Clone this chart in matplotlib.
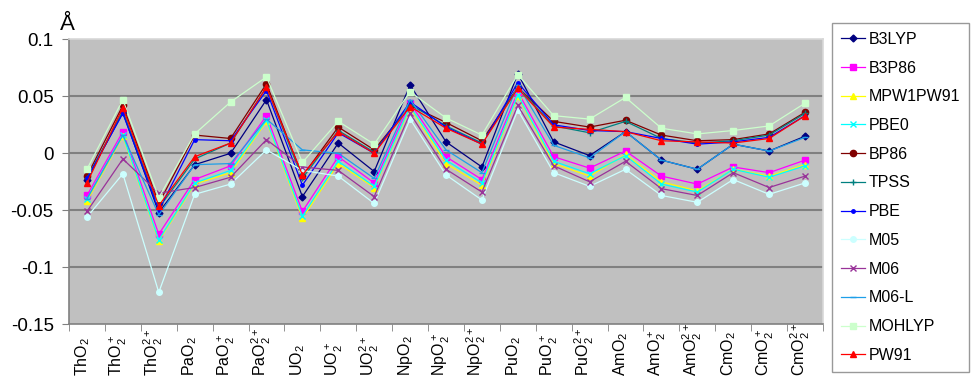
import matplotlib
matplotlib.use('Agg')
import matplotlib.pyplot as plt
import matplotlib.transforms as mtransforms
import numpy as np

plt.rcParams['font.family'] = ['Liberation Sans', 'DejaVu Sans']
plt.rcParams['mathtext.default'] = 'regular'

# categories (x labels)
labels = [r'ThO$_2$', r'ThO$_2^+$', r'ThO$_2^{2+}$',
          r'PaO$_2$', r'PaO$_2^+$', r'PaO$_2^{2+}$',
          r'UO$_2$', r'UO$_2^+$', r'UO$_2^{2+}$',
          r'NpO$_2$', r'NpO$_2^+$', r'NpO$_2^{2+}$',
          r'PuO$_2$', r'PuO$_2^+$', r'PuO$_2^{2+}$',
          r'AmO$_2$', r'AmO$_2^+$', r'AmO$_2^{2+}$',
          r'CmO$_2$', r'CmO$_2^+$', r'CmO$_2^{2+}$']

b3lyp = [-0.023, 0.036, -0.052, -0.010, 0.000, 0.047, -0.038, 0.009, -0.016, 0.060, 0.010,
         -0.012, 0.070, 0.010, -0.002, 0.019, -0.006, -0.014, 0.008, 0.002, 0.015]
b3p86 = [-0.037, 0.019, -0.071, -0.023, -0.011, 0.033, -0.051, -0.003, -0.026, 0.044, -0.003,
         -0.023, 0.054, -0.003, -0.013, 0.002, -0.020, -0.027, -0.012, -0.017, -0.006]
mpw1pw91 = [-0.042, 0.015, -0.077, -0.027, -0.017, 0.028, -0.057, -0.009, -0.030, 0.040, -0.009,
            -0.028, 0.050, -0.009, -0.020, -0.001, -0.025, -0.033, -0.014, -0.020, -0.010]
pbe0 = [-0.040, 0.016, -0.076, -0.026, -0.015, 0.029, -0.055, -0.007, -0.029, 0.041, -0.006,
        -0.026, 0.051, -0.007, -0.018, -0.002, -0.027, -0.034, -0.014, -0.021, -0.011]
bp86 = [-0.020, 0.042, -0.044, 0.016, 0.013, 0.061, -0.020, 0.023, 0.003, 0.042, 0.027,
        0.011, 0.058, 0.028, 0.023, 0.029, 0.016, 0.011, 0.012, 0.017, 0.036]
tpss = [-0.022, 0.037, -0.048, -0.005, 0.009, 0.058, -0.022, 0.020, 0.001, 0.043, 0.024,
        0.009, 0.058, 0.024, 0.018, 0.028, 0.013, 0.009, 0.011, 0.016, 0.035]
pbe = [-0.022, 0.035, -0.050, 0.012, 0.011, 0.055, -0.028, 0.018, 0.000, 0.045, 0.023,
       0.008, 0.062, 0.025, 0.020, 0.019, 0.013, 0.008, 0.010, 0.014, 0.033]
m05 = [-0.056, -0.018, -0.122, -0.036, -0.027, 0.003, -0.015, -0.020, -0.044, 0.030, -0.019,
       -0.041, 0.038, -0.017, -0.029, -0.014, -0.037, -0.043, -0.023, -0.036, -0.026]
m06 = [-0.051, -0.005, -0.035, -0.030, -0.021, 0.012, -0.012, -0.015, -0.038, 0.035, -0.014,
       -0.034, 0.042, -0.011, -0.025, -0.007, -0.031, -0.037, -0.017, -0.030, -0.020]
m06l = [-0.040, 0.016, -0.054, -0.010, -0.009, 0.030, 0.003, 0.000, -0.022, 0.047, 0.003,
        -0.017, 0.060, 0.007, -0.004, 0.019, -0.006, -0.014, 0.008, 0.002, 0.014]
mohlyp = [-0.014, 0.047, -0.039, 0.017, 0.045, 0.067, -0.008, 0.028, 0.008, 0.054, 0.031,
          0.016, 0.069, 0.033, 0.030, 0.049, 0.022, 0.017, 0.020, 0.024, 0.044]
pw91 = [-0.026, 0.040, -0.046, -0.003, 0.009, 0.058, -0.019, 0.019, 0.000, 0.041, 0.022,
        0.008, 0.057, 0.023, 0.021, 0.019, 0.011, 0.010, 0.009, 0.013, 0.033]

series = [
    ('B3LYP', b3lyp, '#000080', 'D', 3.5),
    ('B3P86', b3p86, '#FF00FF', 's', 4.5),
    ('MPW1PW91', mpw1pw91, '#FFFF00', '^', 4.5),
    ('PBE0', pbe0, '#00FFFF', 'x', 4),
    ('BP86', bp86, '#800000', 'o', 4.5),
    ('TPSS', tpss, '#008080', '+', 4.5),
    ('PBE', pbe, '#0000FF', 'o', 2.5),
    ('M05', m05, '#CCFFFF', 'o', 4),
    ('M06', m06, '#993399', 'x', 4),
    ('M06-L', m06l, '#1E9FE8', '_', 5),
    ('MOHLYP', mohlyp, '#CCFFCC', 's', 5),
    ('PW91', pw91, '#FF0000', '^', 5),
]

fig = plt.figure(figsize=(9.74, 3.77), dpi=100)
ax = fig.add_axes([69 / 974, 1 - 324.3 / 377, (823 - 69) / 974, (324.3 - 39.3) / 377])
ax.set_facecolor('#C0C0C0')

x = np.arange(len(labels))
for name, vals, col, mk, ms in series:
    ax.plot(x, vals, color=col, marker=mk, markersize=ms, markeredgecolor=col,
            markerfacecolor=col, linewidth=0.9, label=name)

ax.set_xlim(-0.5, len(labels) - 0.5)
ax.set_ylim(-0.15, 0.1)
ax.set_yticks([-0.15, -0.1, -0.05, 0, 0.05, 0.1])
ax.set_yticklabels(['-0.15', '-0.1', '-0.05', '0', '0.05', '0.1'], fontsize=13.5)
for yv in [-0.1, -0.05, 0, 0.05]:
    ax.axhline(yv, color='#808080', linewidth=1.5, zorder=0.5)

# x labels: rotated, starting near the bottom edge
ax.set_xticks(x)
ax.set_xticklabels([''] * len(labels))
ax.set_xticks(np.arange(-0.5, len(labels)), minor=True)
ax.tick_params(axis='x', which='major', length=0)
ax.tick_params(axis='x', which='minor', length=5, color='#808080')
ax.tick_params(axis='y', length=5, color='#808080', pad=6)
trans = mtransforms.blended_transform_factory(ax.transData, fig.transFigure)
for xi, lab in zip(x, labels):
    ax.text(xi, 1.5 / 377, lab, transform=trans, rotation=90, rotation_mode='anchor',
            ha='left', va='baseline', fontsize=11.5)

for s in ['left', 'bottom']:
    ax.spines[s].set_color('#808080')
    ax.spines[s].set_linewidth(1.2)
for s in ['top', 'right']:
    ax.spines[s].set_color('#D8D8D8')
    ax.spines[s].set_linewidth(1.2)

fig.text(67 / 974, 1 - 25 / 377, 'Å', fontsize=16, ha='center', va='center')

leg = fig.legend(loc='upper left', bbox_to_anchor=(832 / 974, 1 - 23 / 377),
                 frameon=True, fancybox=False, fontsize=11.5, labelspacing=0.86,
                 handlelength=1.5, handletextpad=0.25, borderpad=0.55, borderaxespad=0)
leg.get_frame().set_edgecolor('#808080')
leg.get_frame().set_linewidth(1)

fig.savefig('out.png', dpi=100)
